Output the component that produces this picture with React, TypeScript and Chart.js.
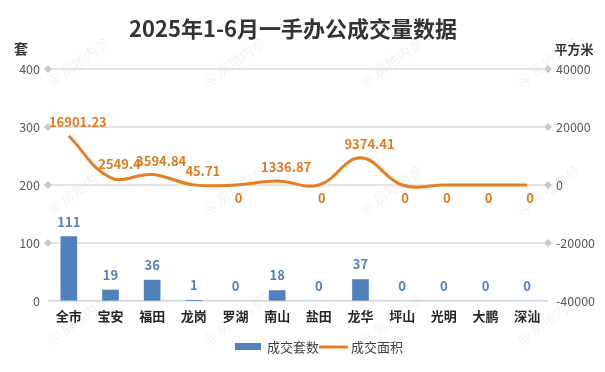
import React, { useEffect, useRef } from "react";
import { Chart, registerables } from "chart.js";

Chart.register(...registerables);

const categories = ["全市", "宝安", "福田", "龙岗", "罗湖", "南山", "盐田", "龙华", "坪山", "光明", "大鹏", "深汕"];
const unitsSold = [111, 19, 36, 1, 0, 18, 0, 37, 0, 0, 0, 0];
const areaSold = [16901.23, 2549.4, 3594.84, 45.71, 0, 1336.87, 0, 9374.41, 0, 0, 0, 0];
const areaLabels = ["16901.23", "2549.4", "3594.84", "45.71", "0", "1336.87", "0", "9374.41", "0", "0", "0", "0"];
const leftTicks = [0, 100, 200, 300, 400];
const rightTicks = [-40000, -20000, 0, 20000, 40000];

const TITLE = "2025年1-6月一手办公成交量数据";
const FONT = '"Noto Sans CJK SC", "Noto Sans", sans-serif';
const BLUE = "#4F81BD";
const ORANGE = "#E67E22";
const ORANGE_TXT = "#E07A1F";

const decorPlugin = {
  id: "decor",
  beforeDraw(chart: any) {
    const ctx = chart.ctx;
    ctx.save();
    ctx.fillStyle = "#ffffff";
    ctx.fillRect(0, 0, chart.width, chart.height);
    // watermarks
    ctx.fillStyle = "rgba(0,0,0,0.06)";
    ctx.font = `14px ${FONT}`;
    ctx.textAlign = "center";
    ctx.textBaseline = "middle";
    const xs = [78, 234, 391, 548];
    const ys = [62, 190, 320];
    for (const y of ys) {
      for (const x of xs) {
        ctx.save();
        ctx.translate(x, y);
        ctx.rotate(-0.62);
        ctx.fillText("@ 房地内参", 0, 0);
        ctx.restore();
      }
    }
    ctx.restore();
  },
  beforeDatasetsDraw(chart: any) {
    const ctx = chart.ctx;
    const y = chart.scales.y;
    const { left, right } = chart.chartArea;
    ctx.save();
    ctx.fillStyle = "#c9c9c9";
    for (const v of leftTicks) {
      if (v === 0) continue;
      const py = y.getPixelForValue(v);
      for (const px of [left, right]) {
        ctx.beginPath();
        ctx.moveTo(px, py - 4);
        ctx.lineTo(px + 4, py);
        ctx.lineTo(px, py + 4);
        ctx.lineTo(px - 4, py);
        ctx.closePath();
        ctx.fill();
      }
    }
    ctx.restore();
  },
  afterDraw(chart: any) {
    const ctx = chart.ctx;
    ctx.save();
    // title
    ctx.fillStyle = "#333333";
    ctx.font = `bold 22px ${FONT}`;
    ctx.textAlign = "center";
    ctx.textBaseline = "middle";
    ctx.fillText(TITLE, 293, 29);
    // axis titles
    ctx.font = `bold 14px ${FONT}`;
    ctx.fillStyle = "#333333";
    ctx.fillText("套", 21, 49);
    ctx.font = `bold 13px ${FONT}`;
    ctx.fillText("平方米", 574, 49);

    // data labels
    const barMeta = chart.getDatasetMeta(0);
    ctx.font = `bold 13px ${FONT}`;
    ctx.fillStyle = BLUE;
    ctx.textAlign = "center";
    barMeta.data.forEach((el: any, i: number) => {
      ctx.fillText(String(unitsSold[i]), el.x, el.y - 15);
    });
    const lineMeta = chart.getDatasetMeta(1);
    ctx.fillStyle = ORANGE_TXT;
    lineMeta.data.forEach((el: any, i: number) => {
      if (areaSold[i] === 0) {
        ctx.fillText(areaLabels[i], el.x + 3, el.y + 13);
      } else {
        ctx.fillText(areaLabels[i], el.x + 9, el.y - 14);
      }
    });

    // legend
    ctx.fillStyle = BLUE;
    ctx.fillRect(235, 343, 26, 7);
    ctx.fillStyle = "#404040";
    ctx.font = `13px ${FONT}`;
    ctx.textAlign = "left";
    ctx.fillText("成交套数", 267, 347);
    ctx.strokeStyle = ORANGE;
    ctx.lineWidth = 3;
    ctx.beginPath();
    ctx.moveTo(319, 347);
    ctx.lineTo(348, 347);
    ctx.stroke();
    ctx.fillText("成交面积", 351, 347);
    ctx.restore();
  },
};

export default function App() {
  const ref = useRef<HTMLCanvasElement>(null);
  useEffect(() => {
    document.body.style.margin = "0";
    const canvas = ref.current!;
    const chart = new Chart(canvas, {
      type: "bar",
      data: {
        labels: categories,
        datasets: [
          {
            type: "bar",
            label: "成交套数",
            data: unitsSold,
            backgroundColor: (c: any) => (c.raw === 0 ? "rgba(0,0,0,0)" : BLUE),
            barThickness: 16,
            yAxisID: "y",
            order: 1,
          } as any,
          {
            type: "line",
            label: "成交面积",
            data: areaSold,
            borderColor: ORANGE,
            borderWidth: 3,
            pointRadius: 0,
            tension: 0.4,
            yAxisID: "y1",
            order: 0,
          } as any,
        ],
      },
      options: {
        responsive: false,
        animation: false,
        devicePixelRatio: 1,
        layout: { padding: { top: 69, bottom: 41, left: 0, right: 0 } },
        plugins: {
          legend: { display: false },
          title: { display: false },
          tooltip: { enabled: false },
        },
        scales: {
          x: {
            grid: { display: false, drawTicks: false },
            border: { display: false },
            ticks: {
              padding: 7,
              color: "#262626",
              font: { family: FONT, size: 13, weight: "bold" },
            },
            afterFit: (s: any) => {
              s.height = 30;
            },
          },
          y: {
            position: "left",
            min: 0,
            max: 400,
            afterBuildTicks: (s: any) => {
              s.ticks = leftTicks.map((v) => ({ value: v }));
            },
            grid: {
              drawTicks: false,
              color: (c: any) => (c.tick && c.tick.value === 0 ? "#cdd1d8" : "#e3e3e3"),
              lineWidth: (c: any) => (c.tick && c.tick.value === 0 ? 1.5 : 2),
            },
            border: { display: false },
            ticks: {
              padding: 8,
              color: "#595959",
              font: { family: FONT, size: 12.5 },
              callback: (v: any) => String(v),
            },
            afterFit: (s: any) => {
              s.width = 48;
            },
          },
          y1: {
            position: "right",
            min: -40000,
            max: 40000,
            afterBuildTicks: (s: any) => {
              s.ticks = rightTicks.map((v) => ({ value: v }));
            },
            grid: { display: false, drawTicks: false },
            border: { display: false },
            ticks: {
              padding: 8,
              color: "#595959",
              font: { family: FONT, size: 12.5 },
              callback: (v: any) => String(v),
            },
            afterFit: (s: any) => {
              s.width = 57;
            },
          },
        },
      },
      plugins: [decorPlugin],
    });
    return () => chart.destroy();
  }, []);
  return (
    <div style={{ position: "absolute", left: 0, top: 0, width: 605, height: 372 }}>
      <canvas ref={ref} width={605} height={372} />
    </div>
  );
}
